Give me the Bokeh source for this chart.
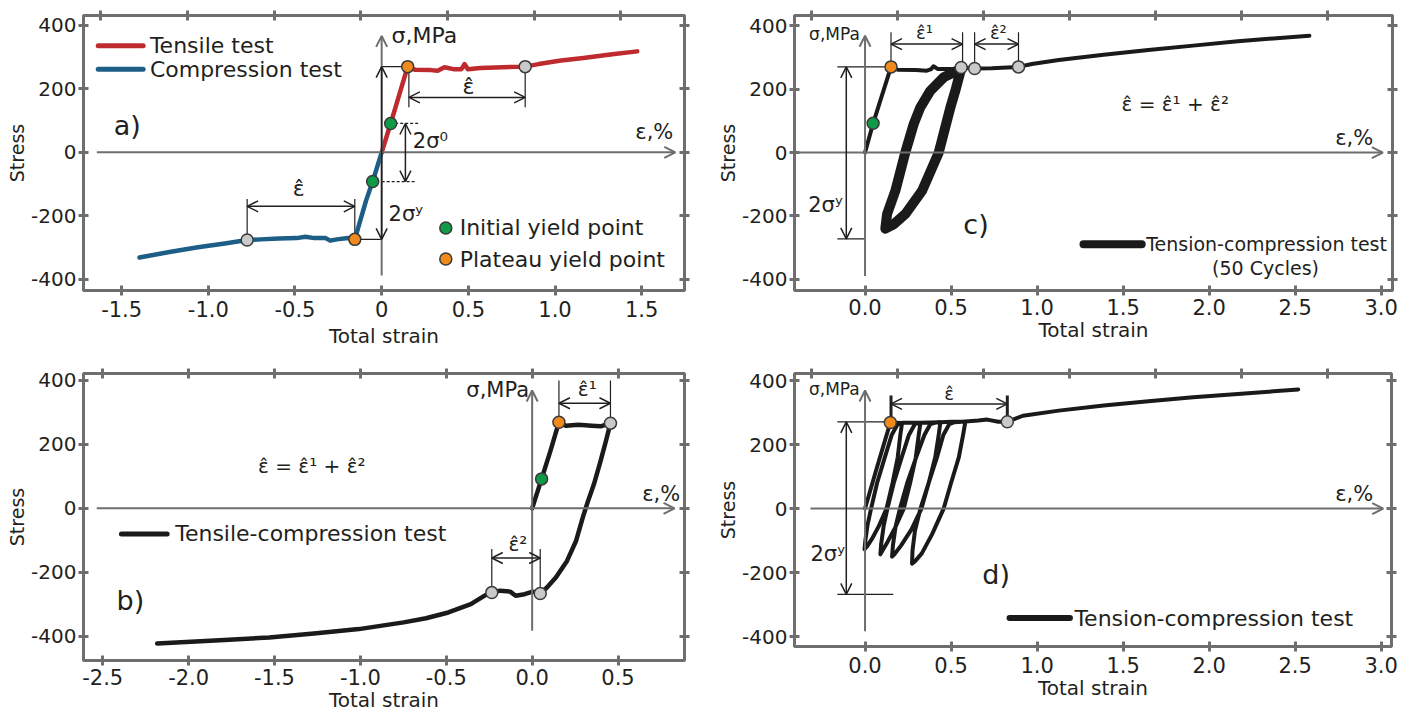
import math
from bokeh.plotting import figure
from bokeh.models import Range1d, LinearAxis, FixedTicker, Arrow, OpenHead, ColumnDataSource
from bokeh.layouts import column, row
from bokeh.embed import file_html
from bokeh.resources import INLINE
from bokeh.core.properties import value

FONT = "DejaVu Sans"
AXC = "#6e6e6e"
INK = "#231f20"
RED = "#be2a2e"
BLUE = "#1d5e87"
GREEN = "#0f9a48"
ORANGE = "#f08a1c"
GRAY = "#c9c9c9"

# ---------------- tick labels ----------------
y_ticks = [400, 200, 0, -200, -400]
y_tick_labels = ["400", "200", "0", "-200", "-400"]
a_x_ticks = [-1.5, -1.0, -0.5, 0.0, 0.5, 1.0, 1.5]
a_x_tick_labels = ["-1.5", "-1.0", "-0.5", "0", "0.5", "1.0", "1.5"]
a_top_ticks = [-1.62, -1.12, -0.62, -0.12, 0.38, 0.88, 1.38]
b_x_ticks = [-2.5, -2.0, -1.5, -1.0, -0.5, 0.0, 0.5]
b_x_tick_labels = ["-2.5", "-2.0", "-1.5", "-1.0", "-0.5", "0.0", "0.5"]
b_top_ticks = [-2.5, -2.0, -1.5, -1.0, -0.5, 0.0, 0.5]
cd_x_ticks = [0.0, 0.5, 1.0, 1.5, 2.0, 2.5, 3.0]
cd_x_tick_labels = ["0.0", "0.5", "1.0", "1.5", "2.0", "2.5", "3.0"]
cd_top_ticks = [-0.31, 0.19, 0.69, 1.19, 1.69, 2.19, 2.69]

# ---------------- panel a data ----------------
a_ten_x = [0.0, 0.052, 0.103, 0.15, 0.194, 0.285, 0.323, 0.362, 0.414, 0.46, 0.478, 0.497, 0.569, 0.698, 0.828, 0.905, 1.035, 1.164, 1.319, 1.474]
a_ten_y = [0, 91, 184, 270, 260, 259, 257, 268, 262, 262, 278, 262, 266, 268, 270, 278, 289, 297, 308, 318]
a_com_x = [0.0, -0.052, -0.09, -0.155, -0.194, -0.259, -0.297, -0.323, -0.388, -0.44, -0.49, -0.595, -0.698, -0.776, -0.905, -1.06, -1.216, -1.397]
a_com_y = [0, -92, -152, -274, -270, -274, -278, -270, -270, -266, -270, -271, -274, -276, -287, -299, -313, -331]
a_init_x = [0.052, -0.052]
a_init_y = [91, -92]
a_plat_x = [0.15, -0.155]
a_plat_y = [270, -274]
a_end_x = [0.828, -0.776]
a_end_y = [270, -276]

# ---------------- panel b data ----------------
b_x = [0.0, 0.055, 0.107, 0.156, 0.196, 0.269, 0.347, 0.399, 0.456, 0.43, 0.399, 0.36, 0.326, 0.295, 0.256, 0.203, 0.138, 0.086, 0.047,
       0.003, -0.044, -0.096, -0.128, -0.188, -0.235, -0.279, -0.357, -0.488, -0.618, -0.748, -1.009, -1.27, -1.531, -1.791, -2.183]
b_y = [0, 92, 180, 269, 258, 261, 258, 256, 266, 211, 149, 76, 24, -28, -101, -164, -216, -247, -266,
       -260, -268, -273, -260, -257, -263, -273, -299, -325, -343, -356, -377, -391, -403, -411, -422]
b_init_x = [0.055]
b_init_y = [92]
b_plat_x = [0.156]
b_plat_y = [269]
b_end_x = [0.456, 0.047, -0.235]
b_end_y = [266, -266, -263]

# ---------------- panel c data ----------------
c_x = [0.0, 0.047, 0.151, 0.19, 0.294, 0.359, 0.385, 0.398, 0.424, 0.502, 0.559, 0.637, 0.736, 0.892, 0.97, 1.126, 1.387, 1.647, 1.907, 2.167, 2.583]
c_y = [0, 92, 270, 261, 260, 258, 263, 272, 263, 263, 268, 265, 266, 270, 279, 292, 308, 323, 337, 351, 368]
c_loop_x = [0.558, 0.525, 0.496, 0.428, 0.331, 0.234, 0.167, 0.118, 0.128, 0.176, 0.234, 0.283, 0.321, 0.38, 0.457, 0.558]
c_loop_y = [263, 195, 142, -1, -121, -194, -226, -240, -194, -121, 0, 90, 142, 195, 237, 263]
c_init_x = [0.047]
c_init_y = [92]
c_plat_x = [0.151]
c_plat_y = [270]
c_end_x = [0.559, 0.637, 0.892]
c_end_y = [268, 265, 270]

# ---------------- panel d data ----------------
d_x = [0.0, 0.07, 0.147, 0.18, 0.215,
       0.205, 0.19, 0.16, 0.125, 0.08, 0.04, 0.012, -0.003,
       0.002, 0.015, 0.035, 0.07, 0.115, 0.155, 0.19, 0.22, 0.27, 0.322,
       0.312, 0.295, 0.262, 0.225, 0.175, 0.13, 0.1, 0.089,
       0.094, 0.108, 0.13, 0.167, 0.213, 0.255, 0.29, 0.32, 0.38, 0.438,
       0.428, 0.408, 0.37, 0.328, 0.27, 0.21, 0.172, 0.157,
       0.162, 0.178, 0.203, 0.245, 0.297, 0.345, 0.38, 0.41, 0.5, 0.583,
       0.57, 0.545, 0.5, 0.457, 0.39, 0.33, 0.29, 0.273,
       0.276, 0.29, 0.322, 0.37, 0.418, 0.455, 0.49, 0.52, 0.583, 0.658, 0.71, 0.775, 0.827,
       0.918, 1.126, 1.387, 1.647, 1.907, 2.167, 2.518]
d_y = [0, 130, 269, 268, 267,
       230, 160, 80, 0, -55, -95, -118, -127,
       -100, -50, 0, 80, 160, 230, 264, 268, 268, 268,
       230, 160, 80, 0, -60, -105, -133, -143,
       -110, -55, 0, 80, 160, 230, 264, 268, 269, 270,
       230, 160, 80, 0, -65, -115, -142, -150,
       -115, -55, 0, 80, 160, 230, 264, 269, 271, 271,
       230, 160, 80, 0, -80, -140, -165, -172,
       -130, -70, 0, 80, 160, 230, 264, 270, 272, 275, 278, 271, 271,
       290, 306, 322, 335, 348, 358, 372]
d_plat_x = [0.147]
d_plat_y = [269]
d_end_x = [0.827]
d_end_y = [271]


def make_fig(xr, yr, bl, fw, br, bt, fh, bb, xticks, xlabels, top_ticks, xlab_standoff, tick_standoff=5):
    p = figure(x_range=Range1d(*xr), y_range=Range1d(*yr), frame_width=fw, frame_height=fh,
               min_border_left=bl, min_border_right=br, min_border_top=bt, min_border_bottom=bb,
               output_backend="svg", toolbar_location=None,
               x_axis_location=None, y_axis_location=None, background_fill_color="white",
               border_fill_color="white")
    p.grid.grid_line_color = None
    p.outline_line_color = AXC
    p.outline_line_width = 3

    def style(ax, show, standoff=5, size="21px"):
        ax.axis_line_color = AXC
        ax.axis_line_width = 3
        ax.major_tick_line_color = AXC
        ax.major_tick_line_width = 3
        ax.major_tick_in = 5
        ax.major_tick_out = 5
        ax.minor_tick_line_color = None
        ax.major_label_text_font = FONT
        ax.major_label_standoff = standoff
        ax.axis_label_text_font = FONT
        ax.axis_label_text_font_style = "normal"
        ax.axis_label_text_font_size = "20px"
        ax.axis_label_text_color = INK
        if show:
            ax.major_label_text_font_size = size
            ax.major_label_text_color = INK
        else:
            ax.major_label_text_font_size = "0px"
            ax.major_label_text_color = None

    bx = LinearAxis(ticker=FixedTicker(ticks=xticks), axis_label="Total strain",
                    major_label_overrides={t: l for t, l in zip(xticks, xlabels)})
    style(bx, True, tick_standoff)
    bx.axis_label_standoff = xlab_standoff
    p.add_layout(bx, "below")
    tx = LinearAxis(ticker=FixedTicker(ticks=top_ticks),
                    major_label_overrides={t: "" for t in top_ticks})
    style(tx, False)
    p.add_layout(tx, "above")
    ly = LinearAxis(ticker=FixedTicker(ticks=y_ticks), axis_label="Stress",
                    major_label_overrides={t: l for t, l in zip(y_ticks, y_tick_labels)})
    style(ly, True, 2, "20px")
    ly.axis_label_text_font_size = "19px"
    ly.axis_label_standoff = 0
    p.add_layout(ly, "left")
    ry = LinearAxis(ticker=FixedTicker(ticks=y_ticks),
                    major_label_overrides={t: "" for t in y_ticks})
    style(ry, False)
    p.add_layout(ry, "right")
    return p


def txt(p, xs, ys, texts, size, align="left", baseline="middle", color=INK):
    p.text(x=xs, y=ys, text=texts, text_font=value(FONT), text_font_size=size,
           text_align=align, text_baseline=baseline, text_color=color)


def segs(p, x0, y0, x1, y1, width=1.2, color=INK, dash="solid"):
    p.segment(x0=x0, y0=y0, x1=x1, y1=y1, line_width=width, line_color=color, line_dash=dash)


def arrows(p, x0, y0, x1, y1, double=True, color=INK, width=1.5, size=11):
    src = ColumnDataSource(dict(x0=x0, y0=y0, x1=x1, y1=y1))
    start = OpenHead(size=size, line_color=color, line_width=width) if double else None
    p.add_layout(Arrow(source=src, x_start="x0", y_start="y0", x_end="x1", y_end="y1",
                       start=start, end=OpenHead(size=size, line_color=color, line_width=width),
                       line_color=color, line_width=width))


def dots(p, xs, ys, color):
    p.scatter(x=xs, y=ys, size=12, fill_color=color, line_color="#3a3a3a", line_width=1.5)


HAT = "\u03b5\u0302"

# ================= panel a =================
pa = make_fig((-1.72, 1.747), (-435, 431), 83, 601, 16, 15, 275, 68, a_x_ticks, a_x_tick_labels, a_top_ticks, 4)
arrows(pa, [-1.643, 0.0], [0, -388], [1.694, 0.0], [0, 367], double=False, color=AXC, width=2)
segs(pa, [0.0, -0.155, 0.157, 0.828, -0.776, -0.155], [270, -274, 270, 270, -276, -274],
     [0.15, 0.0, 0.157, 0.828, -0.776, -0.155], [270, -274, 142, 142, -147, -147])
segs(pa, [0.078, 0.0], [91, -92], [0.22, 0.194], [91, -92], dash="3 2")
arrows(pa, [0.157, -0.776, 0.0, 0.137], [173, -170, -274, -92], [0.828, -0.155, 0.0, 0.137], [173, -170, 270, 91])
pa.line(a_ten_x, a_ten_y, line_color=RED, line_width=4.5, line_join="round", line_cap="round")
pa.line(a_com_x, a_com_y, line_color=BLUE, line_width=4.5, line_join="round", line_cap="round")
dots(pa, a_init_x, a_init_y, GREEN)
dots(pa, a_plat_x, a_plat_y, ORANGE)
dots(pa, a_end_x, a_end_y, GRAY)
pa.line([-1.635, -1.376], [336, 336], line_color=RED, line_width=5, line_cap="round")
pa.line([-1.635, -1.376], [262, 262], line_color=BLUE, line_width=5, line_cap="round")
txt(pa, [-1.337, -1.337], [336, 262], ["Tensile test", "Compression test"], "22px")
dots(pa, [0.37], [-238], GREEN)
dots(pa, [0.37], [-336], ORANGE)
txt(pa, [0.45, 0.45], [-238, -336], ["Initial yield point", "Plateau yield point"], "22px")
txt(pa, [0.057], [367], ["\u03c3,MPa"], "22px")
txt(pa, [1.573], [63], ["\u03b5,%"], "21px", align="center")
txt(pa, [0.5, -0.479], [207, -115], [HAT, HAT], "22px", align="center")
txt(pa, [0.18], [37], ["2\u03c3\u2070"], "21px")
txt(pa, [0.04], [-194], ["2\u03c3\u02b8"], "21px")
txt(pa, [-1.467], [84], ["a)"], "27px", align="center")

# ================= panel c =================
pc = make_fig((-0.41, 3.066), (-435, 432), 94, 598, 10, 15, 275, 68, cd_x_ticks, cd_x_tick_labels, cd_top_ticks, 0, 3)
arrows(pc, [-0.4, 0.0], [0, -389], [3.01, 0.0], [0, 368], double=False, color=AXC, width=2)
segs(pc, [-0.161, -0.161, 0.151, 0.567, 0.637, 0.892], [270, -272, 270, 268, 265, 270],
     [0.151, 0.0, 0.151, 0.567, 0.637, 0.892], [270, -272, 379, 379, 379, 379])
arrows(pc, [-0.109, 0.151, 0.637], [-272, 342, 342], [-0.109, 0.567, 0.892], [270, 342, 342])
pc.line(c_loop_x, c_loop_y, line_color="#1a1a1a", line_width=10, line_join="round", line_cap="round")
pc.line(c_x, c_y, line_color="#1a1a1a", line_width=4, line_join="round", line_cap="round")
dots(pc, c_init_x, c_init_y, GREEN)
dots(pc, c_plat_x, c_plat_y, ORANGE)
dots(pc, c_end_x, c_end_y, GRAY)
pc.line([1.27, 1.608], [-289, -289], line_color="#1a1a1a", line_width=8, line_cap="round")
txt(pc, [1.634], [-289], ["Tension-compression test"], "19px")
txt(pc, [2.328], [-363], ["(50 Cycles)"], "19px", align="center")
txt(pc, [-0.03], [374], ["\u03c3,MPa"], "17px", align="right")
txt(pc, [2.843], [47], ["\u03b5,%"], "21px", align="center")
txt(pc, [0.346, 0.775], [379, 379], [HAT + "\u00b9", HAT + "\u00b2"], "18px", align="center")
txt(pc, [1.803], [153], [HAT + " = " + HAT + "\u00b9 + " + HAT + "\u00b2"], "20px", align="center")
txt(pc, [-0.33], [-165], ["2\u03c3\u02b8"], "21px")
txt(pc, [0.645], [-226], ["c)"], "27px", align="center")

# ================= panel b =================
pb = make_fig((-2.612, 0.887), (-475, 421), 83, 601, 16, 15, 287, 57, b_x_ticks, b_x_tick_labels, b_top_ticks, 0, 3)
arrows(pb, [-2.535, 0.0], [0, -382], [0.829, 0.0], [0, 368], double=False, color=AXC, width=2)
segs(pb, [0.156, 0.456, -0.235, 0.047], [269, 266, -263, -266], [0.156, 0.456, -0.235, 0.047], [399, 399, -127, -127])
arrows(pb, [0.156, -0.235], [328, -155], [0.456, 0.047], [328, -155])
pb.line(b_x, b_y, line_color="#1a1a1a", line_width=4.5, line_join="round", line_cap="round")
dots(pb, b_init_x, b_init_y, GREEN)
dots(pb, b_plat_x, b_plat_y, ORANGE)
dots(pb, b_end_x, b_end_y, GRAY)
pb.line([-2.391, -2.125], [-80, -80], line_color="#1a1a1a", line_width=5, line_cap="round")
txt(pb, [-2.078], [-80], ["Tensile-compression test"], "22px")
txt(pb, [-0.018], [370], ["\u03c3,MPa"], "21px", align="right")
txt(pb, [0.751], [45], ["\u03b5,%"], "21px", align="center")
txt(pb, [0.321, -0.083], [373, -111], [HAT + "\u00b9", HAT + "\u00b2"], "20px", align="center")
txt(pb, [-1.283], [133], [HAT + " = " + HAT + "\u00b9 + " + HAT + "\u00b2"], "20px", align="center")
txt(pb, [-2.339], [-289], ["b)"], "27px", align="center")

# ================= panel d =================
pd_ = make_fig((-0.41, 3.06), (-431, 422), 94, 597, 11, 15, 273, 71, cd_x_ticks, cd_x_tick_labels, cd_top_ticks, 0)
arrows(pd_, [-0.317, 0.0], [0, -383], [3.012, 0.0], [0, 369], double=False, color=AXC, width=2)
segs(pd_, [-0.161, -0.161], [271, -268], [0.151, 0.164], [271, -268])
segs(pd_, [0.151, 0.827], [280, 280], [0.151, 0.827], [353, 353], width=3)
arrows(pd_, [-0.109, 0.151], [-268, 327], [-0.109, 0.827], [271, 327])
pd_.line(d_x, d_y, line_color="#1a1a1a", line_width=4, line_join="round", line_cap="round")
dots(pd_, d_plat_x, d_plat_y, ORANGE)
dots(pd_, d_end_x, d_end_y, GRAY)
pd_.line([0.84, 1.191], [-342, -342], line_color="#1a1a1a", line_width=6, line_cap="round")
txt(pd_, [1.217], [-342], ["Tension-compression test"], "22px")
txt(pd_, [-0.031], [374], ["\u03c3,MPa"], "17px", align="right")
txt(pd_, [2.843], [45], ["\u03b5,%"], "21px", align="center")
txt(pd_, [0.489], [358], [HAT], "18px", align="center")
txt(pd_, [-0.317], [-143], ["2\u03c3\u02b8"], "21px")
txt(pd_, [0.762], [-206], ["d)"], "27px", align="center")

layout = column(row(pa, pc), row(pb, pd_))
open("out.html", "w").write(file_html(layout, INLINE))
